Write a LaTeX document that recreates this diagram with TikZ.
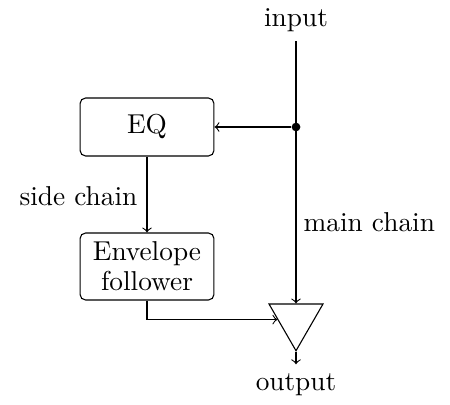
\documentclass[tikz,border=0pt]{standalone}
\usetikzlibrary{shapes.geometric}

\begin{document}
\begin{tikzpicture}[x=0.366pt,y=-0.366pt,
  block/.style={draw,rounded corners=2pt,minimum width=49pt,align=center,inner sep=0pt},
  amp/.style={draw,regular polygon,regular polygon sides=3,shape border rotate=180,
    minimum size=22.8pt,inner sep=0pt},
  dot/.style={circle,fill,inner sep=0pt,minimum size=3.2pt}]
\useasboundingbox (0,0) rectangle (450,404);
\node (in) at (296,20) {input};
\node [dot] (split) at (296,127) {};
\node [block,minimum height=21.2pt] (eq) at (147,127) {EQ};
\node [block,minimum height=24.5pt] (env) at (147,266.5) {Envelope\\[-1pt]follower};
\node [amp] (vca) at (296,319.6) {};
\node (out) at (296,385) {output};
\node [anchor=east] (side) at (147,196) {side chain};
\node [anchor=west] (main) at (294,222) {main chain};
\draw [->] (in) -- (vca.north);
\draw [->] (split) -- (eq);
\draw [->] (eq) -- (env);
\draw [->] (env.south) |- (vca);
\draw [->] (vca.south) -- (out);
\end{tikzpicture}
\end{document}
